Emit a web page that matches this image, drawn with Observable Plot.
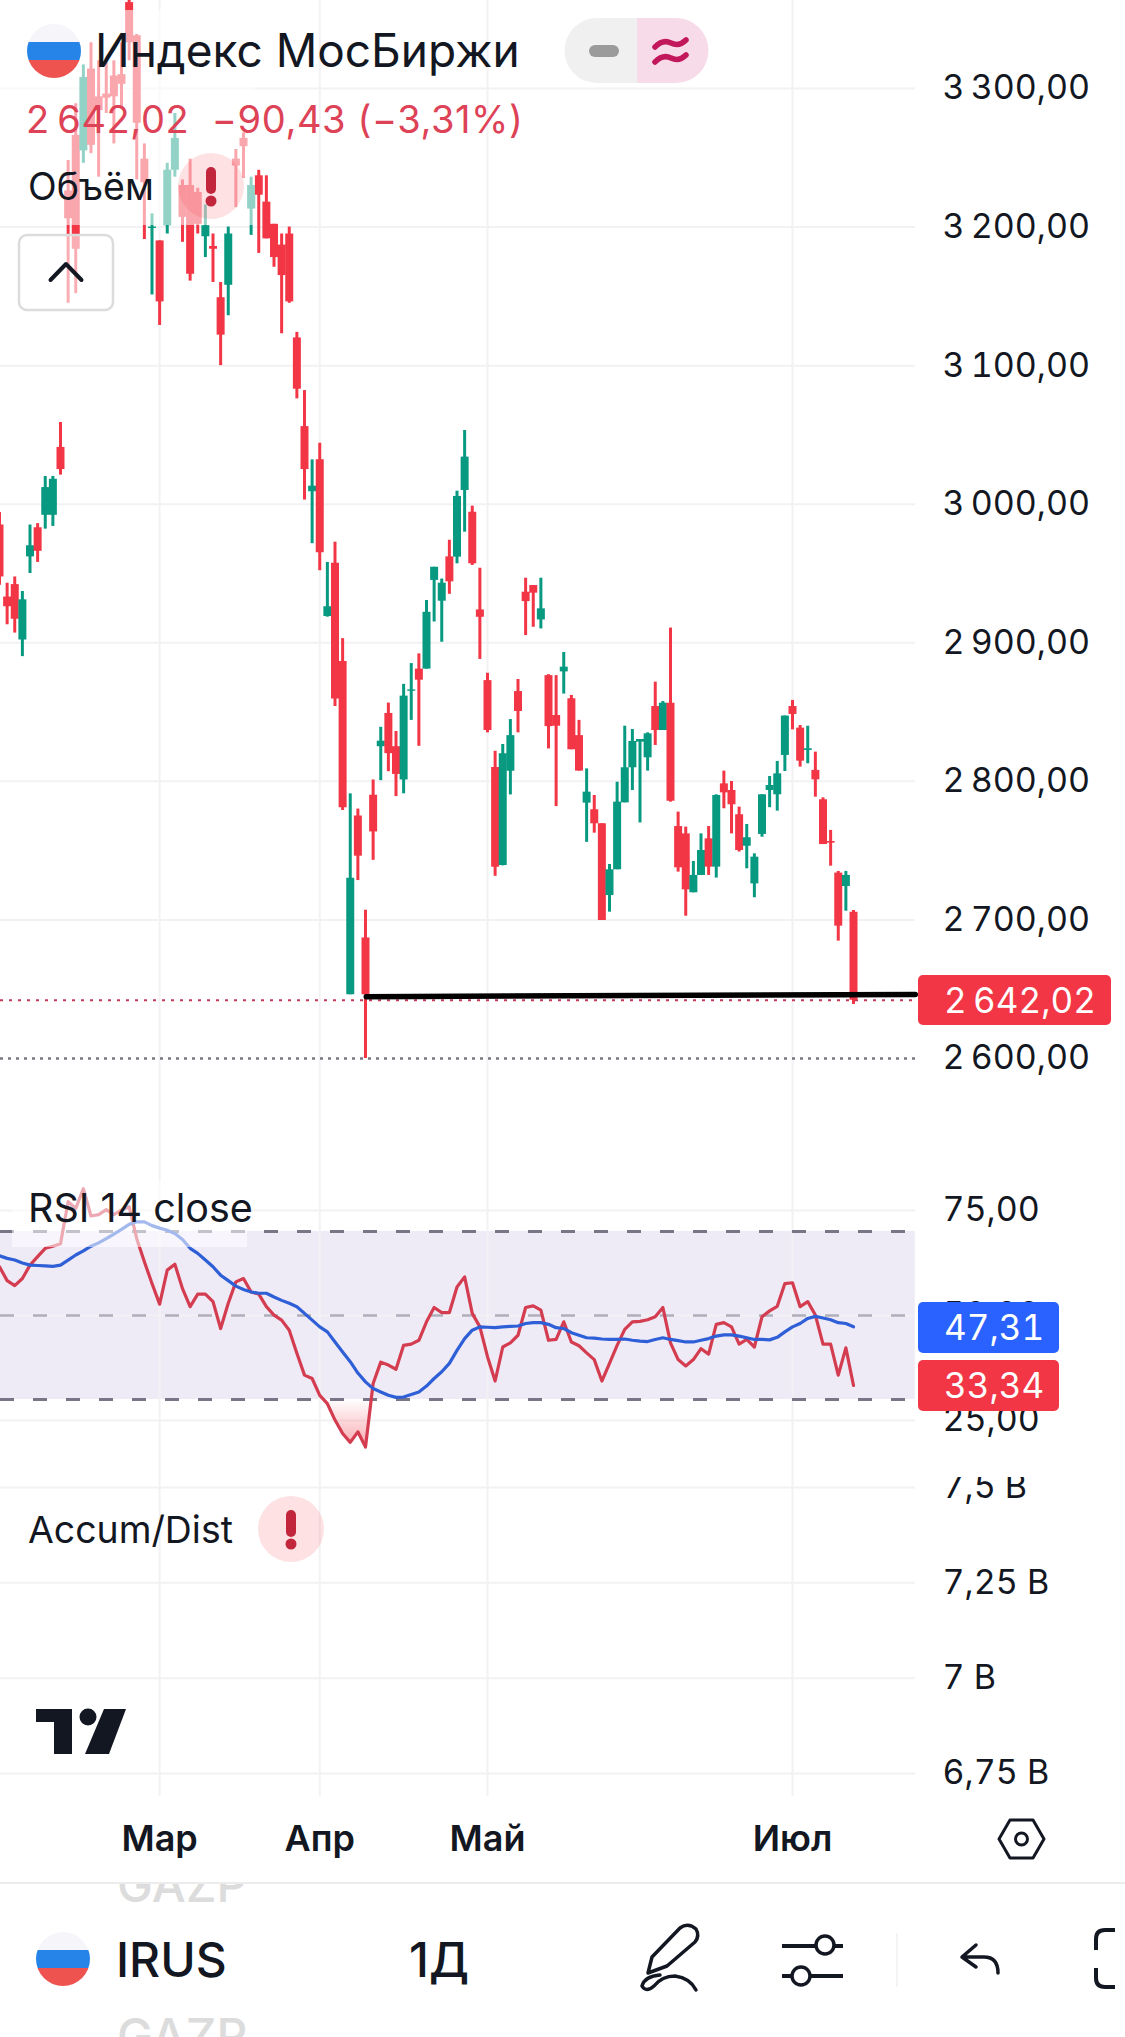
<!DOCTYPE html>
<html lang="ru">
<head>
<meta charset="utf-8">
<title>Индекс МосБиржи</title>
<script src="https://cdn.jsdelivr.net/npm/d3@7"></script>
<script src="https://cdn.jsdelivr.net/npm/@observablehq/plot@0.6"></script>
<style>
html,body{margin:0;padding:0;background:#fff;}
#page{position:relative;width:1125px;height:2037px;overflow:hidden;font-family:Inter,"Noto Sans",sans-serif;color:#131722;background:#fff;}
#page>svg.plot,#page>figure{position:absolute;left:0;margin:0;}
.t{position:absolute;white-space:pre;line-height:1;}
.veil{position:absolute;background:rgba(255,255,255,.56);}
.chip{position:absolute;color:#fff;font-size:35px;line-height:1;border-radius:5px;box-sizing:border-box;padding-left:26px;display:flex;align-items:center;font-variant-numeric:tabular-nums;}
#bottom{position:absolute;left:0;top:1882px;width:1125px;height:155px;overflow:hidden;border-top:2px solid #ececec;box-sizing:border-box;}
</style>
</head>
<body>
<div id="page"></div>
<script>
const opens=[2985,2933,2942,2902,2962,2983,2992,2992,3041,3226,3266,3255,3314,3294,3296,3309,3310,3362,3338,3249,3199,3190,3201,3241,3230,3230,3225,3193,3186,3149,3158,3249,3264,3213,3237,3218,3202,3187,3195,3120,3056,3009,3032,2919,2957.4,2886.5,2646,2775,2687,2790,2825,2849,2825,2801,2865,2881,2881,2945,2930,2962,2961.8,3009.9,2994.2,2923.7,2872.7,2810,2739.2,2807.3,2864.8,2936.5,2941.3,2916.5,2876.3,2847.5,2879,2859.6,2833,2784.3,2779.5,2769.4,2717.6,2736.2,2784.5,2809.8,2828.3,2817,2854,2836.7,2856.4,2767.4,2762.1,2719.6,2732.1,2758.5,2738.1,2798.2,2793.4,2775.9,2753.2,2726,2761.7,2793.4,2790.3,2818.7,2854,2838.4,2822.3,2807.9,2786.7,2756.6,2733.8,2724.1,2705.6];
const highs=[2994,2943,2947.5,2937,2985,2986,3020,3020,3059,3248,3289,3317,3333,3320,3320,3320,3333,3375,3339,3260,3209.5,3190,3246,3282,3234,3249,3228,3216,3195,3160,3200,3256,3268,3236,3241,3237,3202,3195,3200,3124,3082,3032,3044,2958,2972.6,2903,2791,2780,2707,2801,2839,2856.5,2836,2870,2885,2892,2930.5,2954.5,2946,2974,3009.4,3053.2,2998.6,2953.8,2878,2821.7,2826.6,2844.6,2873.5,2946.6,2941.3,2946.6,2877,2876.3,2893,2862,2844,2809,2789.8,2769.4,2740,2799.4,2839.8,2837.4,2830.2,2835,2871.6,2857.6,2910.6,2777.8,2767,2742.2,2762.1,2767.4,2790.3,2807.4,2799.9,2781.4,2768.9,2747.7,2790.3,2803.5,2814.4,2847.1,2858.4,2840.3,2839.8,2821.1,2788.1,2764.6,2735,2735,2706.8];
const lows=[2941.5,2913,2907,2890,2950,2958,2982,2984,3021,3145,3152,3246,3253,3236,3282,3260,3287,3320,3234,3191,3151,3129,3195,3236,3189,3161,3195,3178,3160,3100,3136,3214,3235,3194,3181,3191.5,3171,3123,3145,3076,3003,2971.5,2952,2918.5,2854,2779,2646,2728.4,2600,2743,2800.5,2807,2789,2791,2844,2825.3,2881,2915,2900.4,2935,2957,2979.8,2955.8,2888,2835,2731.5,2739,2790.2,2835,2905.2,2911.2,2910,2823.4,2781.8,2863,2822.8,2807.4,2756,2762.6,2699.6,2705.6,2736.2,2784.5,2793.4,2770,2807.4,2825.9,2836.7,2785,2734.5,2702.7,2719.6,2732.1,2732.1,2730.2,2780.2,2762.1,2749,2736.9,2716,2759.7,2781,2778.5,2807.1,2837.2,2810.3,2812.7,2788.6,2754.4,2738.8,2684.7,2706.3,2639];
const closes=[2947.5,2926,2917,2931,2970,2966,3012,3018,3025,3206,3184,3308,3259,3284,3293,3294,3303,3333,3275,3232,3200,3146,3241,3264,3207,3166,3202,3201,3184,3122,3195,3244,3258,3230,3223,3191.5,3178,3165,3146,3083,3025,3013,2965,2926,2859.5,2781,2730,2746,2646,2763.5,2829,2820,2805,2861.5,2866,2873,2922,2954.5,2943,2944,3005.6,3034,2957,2918.4,2836.7,2738,2820,2833,2850.4,2929.7,2935.8,2924.5,2839.5,2839.8,2882.4,2822.8,2807.4,2792.2,2769.4,2699.6,2736.2,2785,2809.8,2828.8,2830.2,2834.3,2836.7,2856.4,2785.7,2737.6,2721.7,2732.1,2750.1,2738.1,2789.8,2791.7,2783.1,2750.1,2759.3,2745.3,2790.3,2797,2805.4,2847.1,2848.3,2814.6,2823.5,2801.1,2754.4,2755.4,2695.5,2732.1,2642.02];
const rsi=[61.6,58.3,57.1,58.8,62.0,64.0,66.0,66.5,67.1,77.1,75.5,80.2,73.7,74.0,75.2,74.0,75.1,75.9,68.3,62.8,57.6,52.7,60.8,62.2,56.4,52.1,55.1,55.1,53.3,46.9,52.9,58.0,58.8,55.6,55.1,52.1,50.1,48.9,46.5,41.0,35.8,35.0,31.0,29.0,25.1,21.9,19.8,22.3,18.7,33.8,38.9,38.2,37.2,42.9,43.2,44.1,48.5,51.9,50.7,50.7,56.8,59.2,50.5,47.3,40.2,34.4,42.5,43.5,45.3,51.9,52.3,51.3,44.1,44.3,48.5,43.7,42.8,41.1,39.5,34.4,38.6,42.9,46.7,48.5,48.6,49.0,49.7,51.9,43.5,39.5,38.0,39.5,42.1,40.8,47.9,48.3,47.3,43.2,44.3,42.5,49.7,51.1,52.2,57.6,57.8,52.1,53.3,50.1,43.2,43.2,35.8,42.3,33.34];
const rsiMa=[64.2,63.6,63.2,62.5,62.0,61.9,61.8,61.7,62.0,63.2,64.4,65.4,66.5,67.3,68.3,69.4,70.5,71.7,72.3,72.3,71.4,70.8,70.3,69.5,68.1,66.0,64.8,63.2,61.6,59.6,58.3,57.0,56.2,55.6,55.3,55.3,54.4,53.6,52.9,52.1,50.5,48.9,47.3,46.1,43.7,41.3,39.0,36.3,34.2,32.6,31.8,31.0,30.5,30.6,31.2,31.8,33.2,35.0,36.6,38.6,41.7,44.5,46.5,47.3,47.2,47.1,47.3,47.4,47.5,48.1,48.3,48.3,47.9,47.1,46.9,45.9,45.3,44.7,44.6,44.4,44.3,44.3,44.4,44.1,43.9,43.8,44.3,44.7,44.3,44.0,43.7,43.7,44.1,44.5,45.1,45.4,45.4,45.1,44.7,44.3,44.3,44.2,44.8,46.1,47.3,48.1,49.3,49.8,49.4,49.0,48.3,48.1,47.31];
const priceTicks=[3300,3200,3100,3000,2900,2800,2700];
const priceGuide=2600, lastClose=2642.02;
const rsiTicks=[75,50,25], rsiBands=[70,50,30];
const adTicks=[7.5,7.25,7,6.75], adLabels=["7,5 B","7,25 B","7 B","6,75 B"];
const monthAt=[21,42,64,104], monthNames=["Мар","Апр","Май","Июл"];
const trendIdx=[48.1,120.1], trendPrice=[2644.6,2646.2];

const idx=d3.range(closes.length);
const RED="#f23645", GREEN="#089981", GRID="#f2f2f4", INK="#131722";
const xScale={domain:[0,112],range:[-1,853],axis:null};
const base=(height,top,marginBottom)=>({
  width:1125,height,marginLeft:0,marginRight:210,marginTop:0,marginBottom,
  style:{position:"absolute",left:"0",top:top+"px",overflow:"hidden",background:"transparent",fontFamily:"Inter, 'Noto Sans', sans-serif",fontSize:"34px",color:INK}
});
const grid=v=>Plot.gridX(v,{stroke:GRID,strokeWidth:2,strokeOpacity:1});
const gridH=v=>Plot.gridY(v,{stroke:GRID,strokeWidth:2,strokeOpacity:1});
const yAxis=(v,fmt)=>Plot.axisY(v,{anchor:"right",tickSize:0,tickPadding:27,label:null,tickFormat:fmt,fill:INK});
const comma=d=>d.toFixed(2).replace(".",",").replace(/^(\d)(\d{3})/,"$1\u2009$2");

const price=Plot.plot({...base(1155,0,0),
  x:xScale,
  y:{domain:[2600,3300],range:[1058,88],axis:null},
  color:{type:"identity"},
  marks:[
    grid(monthAt),
    gridH(priceTicks),
    Plot.ruleY([lastClose],{stroke:"#c23a58",strokeWidth:2,strokeDasharray:"3 6"}),
    Plot.ruleY([priceGuide],{stroke:"#77777f",strokeWidth:2.5,strokeDasharray:"3 5"}),
    Plot.ruleX(idx,{x:d=>d,y1:d=>lows[d],y2:d=>highs[d],stroke:d=>closes[d]>=opens[d]?GREEN:RED,strokeWidth:3}),
    Plot.ruleX(idx,{x:d=>d,y1:d=>opens[d],y2:d=>closes[d],stroke:d=>closes[d]>=opens[d]?GREEN:RED,strokeWidth:8}),
    Plot.line(trendIdx.map((x,i)=>[x,trendPrice[i]]),{x:d=>d[0],y:d=>d[1],stroke:"#000",strokeWidth:5.5}),
    yAxis([...priceTicks,priceGuide],comma)
  ]
});

const osGrad=()=>{
  const g=d3.create("svg:defs");
  const lg=g.append("linearGradient").attr("id","osgrad").attr("x1",0).attr("y1",0).attr("x2",0).attr("y2",1);
  lg.append("stop").attr("offset",0).attr("stop-color",RED).attr("stop-opacity",0);
  lg.append("stop").attr("offset",1).attr("stop-color",RED).attr("stop-opacity",.42);
  return g.node();
};
const rsiPlot=Plot.plot({...base(322,1155,0),
  x:xScale,
  y:{domain:[25,75],range:[265,55],axis:null},
  marks:[
    osGrad,
    Plot.rect([{x1:-1,x2:120.1,y1:30,y2:70}],{x1:"x1",x2:"x2",y1:"y1",y2:"y2",fill:"#eeebf7"}),
    grid(monthAt),
    gridH(rsiTicks),
    Plot.ruleY([rsiBands[0],rsiBands[2]],{stroke:"#787586",strokeWidth:3,strokeDasharray:"14 19"}),
    Plot.ruleY([rsiBands[1]],{stroke:"#b0aebb",strokeWidth:2.5,strokeDasharray:"14 19"}),
    Plot.areaY(idx.slice(42,50),{x:d=>d,y1:()=>30,y2:d=>Math.min(rsi[d],30),fill:"url(#osgrad)"}),
    Plot.lineY(rsi,{x:(d,i)=>i,y:d=>d,stroke:"#d43c50",strokeWidth:3.2,strokeLinejoin:"round"}),
    Plot.lineY(rsiMa,{x:(d,i)=>i,y:d=>d,stroke:"#2f5fd6",strokeWidth:3.2,strokeLinejoin:"round"}),
    yAxis(rsiTicks,d=>d.toFixed(2).replace(".",","))
  ]
});

const adPlot=Plot.plot({...base(405,1477,86),
  x:xScale,
  y:{domain:[6.75,7.5],range:[296,10],axis:null},
  marks:[
    grid(monthAt),
    gridH(adTicks),
    yAxis(adTicks,d=>adLabels[adTicks.indexOf(d)]),
    Plot.axisX(monthAt,{anchor:"bottom",tickSize:0,tickPadding:29,label:null,fontWeight:600,fontSize:36,fill:INK,tickFormat:d=>monthNames[monthAt.indexOf(d)]})
  ]
});

const page=document.getElementById("page");
page.append(price,rsiPlot,adPlot);

const addHTML=h=>page.insertAdjacentHTML("beforeend",h);
const flag=(cx,cy,r)=>`<clipPath id="f${cy}"><circle cx="${cx}" cy="${cy}" r="${r}"/></clipPath><g clip-path="url(#f${cy})"><rect x="${cx-r}" y="${cy-r}" width="${2*r}" height="${2*r}" fill="#f5f5fa"/><rect x="${cx-r}" y="${cy-9}" width="${2*r}" height="18" fill="#2683e8"/><rect x="${cx-r}" y="${cy+9}" width="${2*r}" height="${r}" fill="#ef5350"/></g>`;
const alert=(cx,cy)=>`<circle cx="${cx}" cy="${cy}" r="33" fill="rgba(242,54,69,.15)"/><line x1="${cx}" y1="${cy-14}" x2="${cx}" y2="${cy+3}" stroke="#c2263c" stroke-width="10" stroke-linecap="round"/><circle cx="${cx}" cy="${cy+15}" r="5.5" fill="#c2263c"/>`;

addHTML(`
<div class="veil" style="left:0;top:10px;width:255px;height:215px"></div>
<div class="veil" style="left:12px;top:1180px;width:235px;height:67px"></div>
<svg width="1125" height="2037" viewBox="0 0 1125 2037" style="position:absolute;left:0;top:0;pointer-events:none" fill="none">
  ${flag(54,51,27)}
  <path d="M597 18H637V83H597A32.500 32.500 0 0 1 597 18Z" fill="#f0f0f0"/>
  <path d="M637 18H676A32.500 32.500 0 0 1 676 83H637Z" fill="#f8dbe8"/>
  <rect x="589" y="45" width="30" height="12" rx="6" fill="#9b9b9b"/>
  <path d="M655 47q8-8 16-4t15-3M655 62q8-8 16-4t15-3" stroke="#c2185b" stroke-width="5.500" stroke-linecap="round"/>
  ${alert(211,186)}
  <rect x="19" y="235" width="94" height="75" rx="8" fill="rgba(255,255,255,.6)" stroke="#dcdcdc" stroke-width="2.500"/>
  <path d="M50.500 280L66 264L81.500 280" stroke="#131722" stroke-width="4" stroke-linecap="round" stroke-linejoin="round"/>
  ${alert(291,1529)}
  <path d="M36 1709H72V1754H54V1722H36Z" fill="#131722"/>
  <circle cx="88" cy="1717" r="8.500" fill="#131722"/>
  <path d="M104 1709H126L109 1754H85Z" fill="#131722"/>
  <path d="M1010 1820H1033L1044 1839L1033 1858H1010L999 1839Z" stroke="#131722" stroke-width="3" stroke-linejoin="round"/>
  <circle cx="1021.500" cy="1839" r="6" stroke="#131722" stroke-width="3"/>
  ${flag(63,1959,27)}
  <path d="M648 1973L652 1957L680 1928Q688 1922 696 1929Q700 1936 695 1942L667 1966Z" stroke="#131722" stroke-width="3.500" stroke-linejoin="round"/>
  <path d="M660 1975Q645 1976 642 1986Q646 1993 654 1986Q662 1976 675 1976Q690 1978 696 1990" stroke="#131722" stroke-width="3.500" stroke-linecap="round"/>
  <path d="M782 1946H816M834 1946H843M782 1976H792M810 1976H843" stroke="#131722" stroke-width="4"/>
  <circle cx="825" cy="1945" r="9" stroke="#131722" stroke-width="3.500"/>
  <circle cx="801" cy="1976" r="9" stroke="#131722" stroke-width="3.500"/>
  <line x1="897" y1="1933" x2="897" y2="1987" stroke="#f0f0f0" stroke-width="1.500"/>
  <path d="M976 1945L962 1957L976 1967M962 1957H984Q998 1957 998 1973" stroke="#131722" stroke-width="3.500" stroke-linecap="round" stroke-linejoin="round"/>
  <path d="M1115 1930H1105Q1096 1930 1096 1939V1950M1096 1968V1978Q1096 1987 1105 1987H1115" stroke="#131722" stroke-width="4"/>
</svg>
<div class="t" style="left:95px;top:27px;font-size:46px;">Индекс МосБиржи</div>
<div class="t" style="left:26px;top:100px;font-size:38px;letter-spacing:.6px;color:#dd4256;">2\u2009642,02  −90,43 (−3,31%)</div>
<div class="t" style="left:28px;top:168px;font-size:37.500px;">Объём</div>
<div class="t" style="left:28px;top:1189px;font-size:39.500px;">RSI 14 close</div>
<div class="t" style="left:28px;top:1511px;font-size:37.400px;">Accum/Dist</div>
<div class="chip" style="left:918px;top:975px;width:193px;height:50px;background:${RED};">2\u2009642,02</div>
<div class="chip" style="left:918px;top:1302px;width:141px;height:51px;background:#2962ff;">47,31</div>
<div class="chip" style="left:918px;top:1360px;width:141px;height:51px;background:${RED};">33,34</div>
<div id="bottom">
  <div class="t" style="left:117px;top:-23px;font-size:48px;font-weight:500;color:#dcdcdc;">GAZP</div>
  <div class="t" style="left:116px;top:52px;font-size:48px;font-weight:500;">IRUS</div>
  <div class="t" style="left:409px;top:52px;font-size:48px;font-weight:500;">1Д</div>
  <div class="t" style="left:117px;top:128px;font-size:48px;font-weight:500;color:#dcdcdc;">GAZP</div>
</div>`);
</script>
</body>
</html>
